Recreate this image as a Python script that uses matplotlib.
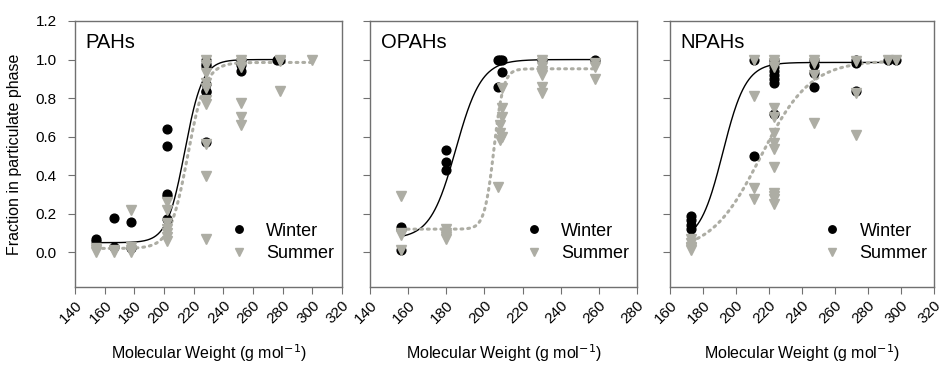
import numpy as np
import matplotlib.pyplot as plt

plt.rcParams['font.family'] = ['Liberation Sans', 'DejaVu Sans']

# PAHs
pah_w_x = [154, 154, 166, 166, 178, 178, 202, 202, 202, 202, 202,
           228, 228, 228, 228, 228, 228, 228, 252, 252, 252, 278, 276]
pah_w_y = [0.07, 0.06, 0.18, 0.03, 0.155, 0.02, 0.64, 0.55, 0.30, 0.29, 0.175,
           1.0, 0.975, 0.965, 0.875, 0.835, 0.83, 0.57, 1.0, 0.97, 0.94, 1.0, 1.0]
pah_s_x = [154, 154, 154, 166, 166, 178, 178, 178, 178,
           202, 202, 202, 202, 202, 202, 202,
           228, 228, 228, 228, 228, 228, 228, 228, 228, 228,
           252, 252, 252, 252, 252, 252, 278, 278, 278, 300]
pah_s_y = [0.0, 0.02, 0.01, 0.0, 0.01, 0.218, 0.03, 0.01, 0.0,
           0.26, 0.22, 0.15, 0.12, 0.10, 0.08, 0.06,
           1.0, 0.97, 0.93, 0.88, 0.85, 0.79, 0.77, 0.56, 0.395, 0.07,
           1.0, 0.98, 0.96, 0.775, 0.70, 0.66, 1.0, 0.99, 0.835, 1.0]

# OPAHs
opah_w_x = [156, 156, 156, 180, 180, 180, 207, 208, 209, 209, 207, 230, 258]
opah_w_y = [0.13, 0.12, 0.01, 0.53, 0.47, 0.425, 1.0, 1.0, 1.0, 0.935, 0.86, 1.0, 1.0]
opah_s_x = [156, 156, 156, 156, 180, 180, 180, 180, 180,
            209, 209, 209, 208, 208, 209, 208, 207,
            230, 230, 230, 230, 230, 230, 230, 258, 258, 258]
opah_s_y = [0.29, 0.10, 0.09, 0.01, 0.12, 0.10, 0.09, 0.08, 0.07,
            0.855, 0.75, 0.70, 0.66, 0.62, 0.60, 0.585, 0.34,
            1.0, 0.98, 0.96, 0.94, 0.92, 0.86, 0.825, 0.98, 0.96, 0.90]

# NPAHs
npah_w_x = [173, 173, 173, 173, 211, 211,
            223, 223, 223, 223, 223, 223, 223, 223,
            247, 247, 247, 247, 273, 273, 273, 292, 297]
npah_w_y = [0.19, 0.17, 0.14, 0.12, 1.0, 0.50,
            1.0, 0.98, 0.96, 0.94, 0.92, 0.90, 0.88, 0.72,
            1.0, 0.97, 0.93, 0.86, 1.0, 0.98, 0.835, 1.0, 1.0]
npah_s_x = [173, 173, 173, 173, 173, 211, 211, 211, 211,
            223, 223, 223, 223, 223, 223, 223, 223, 223, 223, 223, 223, 223,
            247, 247, 247, 247, 273, 273, 273, 292, 297]
npah_s_y = [0.07, 0.05, 0.03, 0.02, 0.01, 1.0, 0.81, 0.335, 0.275,
            1.0, 0.98, 0.96, 0.75, 0.70, 0.62, 0.566, 0.534, 0.44, 0.31, 0.29, 0.277, 0.25,
            1.0, 0.98, 0.92, 0.67, 0.99, 0.826, 0.606, 1.0, 1.0]

# sigmoid fits: bottom, top, x0, slope, x start, x end
pah_w_fit = [0.05, 1.0, 214, 6.0, 154, 278]
pah_s_fit = [0.02, 0.985, 216, 6.0, 154, 300]
opah_w_fit = [0.07, 1.0, 185, 6.7, 156, 258]
opah_s_fit = [0.12, 0.952, 205, 2.5, 156, 258]
npah_w_fit = [0.05, 0.985, 192, 7.0, 173, 297]
npah_s_fit = [0.0, 0.995, 215, 15.0, 173, 297]

titles = ['PAHs', 'OPAHs', 'NPAHs']
xlims = [(140, 320), (140, 280), (160, 320)]
panels = [(pah_w_x, pah_w_y, pah_s_x, pah_s_y, pah_w_fit, pah_s_fit),
          (opah_w_x, opah_w_y, opah_s_x, opah_s_y, opah_w_fit, opah_s_fit),
          (npah_w_x, npah_w_y, npah_s_x, npah_s_y, npah_w_fit, npah_s_fit)]

gray = '#adada4'
spine = '#707070'


def sigmoid(x, p):
    b, t, x0, k = p[:4]
    return b + (t - b) / (1 + np.exp(-(x - x0) / k))


fig = plt.figure(figsize=(9.44, 3.68), dpi=100)
lefts = [75 / 944, 370 / 944, 670 / 944]
widths = [267 / 944, 267 / 944, 264 / 944]

for i, (wx, wy, sx, sy, wf, sf) in enumerate(panels):
    ax = fig.add_axes([lefts[i], 1 - 287 / 368, widths[i], 266 / 368])
    xs = np.linspace(wf[4], wf[5], 300)
    ax.plot(xs, sigmoid(xs, wf), color='black', lw=1.0, zorder=2)
    xs = np.linspace(sf[4], sf[5], 300)
    ax.plot(xs, sigmoid(xs, sf), color=gray, lw=2.2, ls=(0, (0.6, 1.6)),
            dash_capstyle='round', zorder=2)
    ax.plot(wx, wy, 'o', color='black', ms=6.3, ls='none', label='Winter', zorder=3)
    ax.plot(sx, sy, 'v', color=gray, ms=7.3, ls='none', label='Summer', zorder=4)

    ax.set_xlim(*xlims[i])
    ax.set_ylim(-0.18, 1.2)
    ax.set_xticks(np.arange(xlims[i][0], xlims[i][1] + 1, 20))
    ax.set_yticks(np.arange(0, 1.21, 0.2))
    ax.tick_params(axis='x', labelrotation=45, labelsize=11, length=5,
                   color=spine, direction='out', pad=3)
    ax.tick_params(axis='y', labelsize=11, length=5, color=spine,
                   direction='out', pad=8)
    for lab in ax.get_xticklabels():
        lab.set_ha('right')
        lab.set_va('top')
        lab.set_rotation_mode('anchor')
    if i == 0:
        ax.set_yticklabels(['%.1f' % v for v in np.arange(0, 1.21, 0.2)])
        ax.set_ylabel('Fraction in particulate phase', fontsize=11.5, labelpad=10)
    else:
        ax.set_yticklabels([])
    for s in ax.spines.values():
        s.set_color(spine)
        s.set_linewidth(1.0)
    ax.set_xlabel('Molecular Weight (g mol$^{-1}$)', fontsize=11.5, labelpad=12)
    ax.text(0.04, 0.92, titles[i], transform=ax.transAxes, fontsize=14.5,
            va='center', ha='left')
    ax.legend(loc='lower left', bbox_to_anchor=(0.54, 0.06), frameon=False,
              fontsize=13, handletextpad=0.9, labelspacing=0.3,
              borderpad=0, handlelength=1.2, markerscale=0.85)

fig.savefig('out.png', dpi=100)
